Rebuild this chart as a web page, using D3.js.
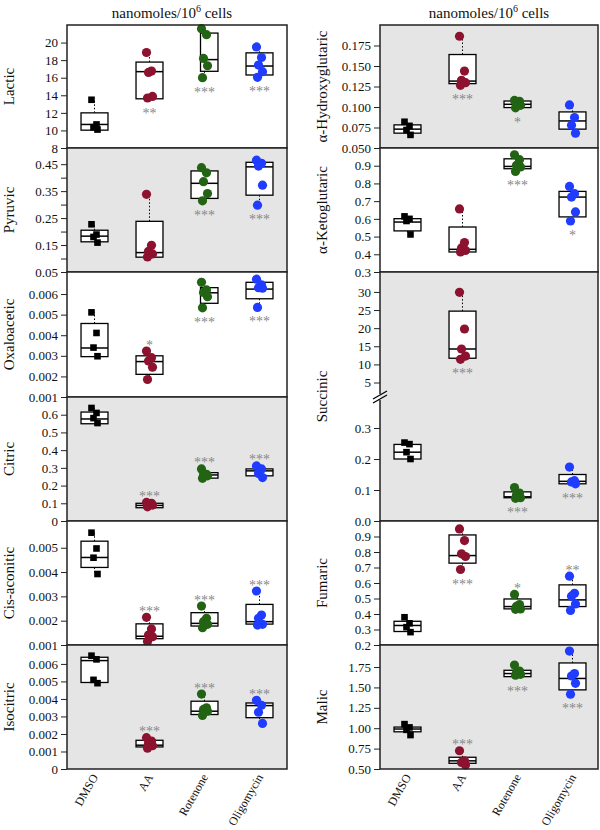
<!DOCTYPE html>
<html><head><meta charset="utf-8">
<script src="https://cdn.jsdelivr.net/npm/d3@7"></script>
<style>body{margin:0;background:#fff}</style>
</head><body><svg id="c" width="600" height="830"></svg>
<script>
const groups = ["DMSO","AA","Rotenone","Oligomycin"];
const groupColors = ["#000000","#8c1230","#236414","#1f3cff"];

// ---- Lactic ----
const lacticDomain = [8, 22];
const lacticTicks = ["8","10","12","14","16","18","20"];
const lacticPts = [[13.49,10.68,10.37,10.1],[18.87,16.76,16.6,13.87,13.69],[21.58,20.9,18.2,17.36,16.0],[19.5,18.3,17.44,16.69,16.05]];
const lacticBox = [[10.03,10.68,12.0],[13.6,16.69,17.78],[16.73,18.06,21.08],[16.31,17.33,18.83]];
const lacticSig = ["","**","***","***"];
const lacticSide = ["","below","below","below"];
// ---- Pyruvic ----
const pyruvicDomain = [0.05, 0.51];
const pyruvicTicks = ["0.05","0.15","0.25","0.35","0.45"];
const pyruvicMinor = [0.10,0.20,0.30,0.40];
const pyruvicPts = [[0.227,0.189,0.18,0.159],[0.338,0.149,0.127,0.117,0.106],[0.437,0.418,0.385,0.341,0.314],[0.465,0.453,0.443,0.372,0.298]];
const pyruvicBox = [[0.162,0.183,0.205],[0.105,0.122,0.238],[0.323,0.379,0.425],[0.335,0.44,0.457]];
const pyruvicSig = ["","","***","***"];
const pyruvicSide = ["","","below","below"];
// ---- Oxaloacetic ----
const oxaloDomain = [0.001, 0.00707];
const oxaloTicks = ["0.001","0.002","0.003","0.004","0.005","0.006"];
const oxaloPts = [[0.00511,0.00411,0.0034,0.00298],[0.00323,0.00291,0.00275,0.00245,0.00185],[0.00657,0.0062,0.00608,0.00587,0.00533],[0.00672,0.00644,0.00631,0.00628,0.00535]];
const oxaloBox = [[0.00296,0.00338,0.00457],[0.0021,0.00272,0.003],[0.00555,0.00606,0.00631],[0.00577,0.00624,0.00657]];
const oxaloSig = ["","*","***","***"];
const oxaloSide = ["","above","below","below"];
// ---- Citric ----
const citricDomain = [0, 0.70];
const citricTicks = ["0","0.1","0.2","0.3","0.4","0.5","0.6"];
const citricPts = [[0.638,0.61,0.581,0.553],[0.105,0.1,0.095,0.09,0.08],[0.294,0.264,0.26,0.255,0.241],[0.311,0.294,0.268,0.245]];
const citricBox = [[0.549,0.576,0.615],[0.075,0.088,0.1],[0.242,0.26,0.273],[0.255,0.283,0.294]];
const citricSig = ["","***","***","***"];
const citricSide = ["","above","above","above"];
// ---- Cis-aconitic ----
const cisDomain = [0.001, 0.0061];
const cisTicks = ["0.001","0.002","0.003","0.004","0.005"];
const cisPts = [[0.00562,0.00497,0.00459,0.00392],[0.00214,0.00166,0.00141,0.00134,0.00114],[0.0026,0.0021,0.00196,0.00185,0.00171],[0.00322,0.00223,0.0021,0.00185,0.00182]];
const cisBox = [[0.00419,0.0046,0.00527],[0.00126,0.00136,0.00187],[0.00178,0.00189,0.00233],[0.00186,0.00196,0.00267]];
const cisSig = ["","***","***","***"];
const cisSide = ["","above","above","above"];
// ---- Isocitric ----
const isoDomain = [0, 0.00708];
const isoTicks = ["0","0.001","0.002","0.003","0.004","0.005","0.006"];
const isoPts = [[0.00647,0.00626,0.00509,0.0049],[0.00179,0.0016,0.00145,0.00133,0.00119],[0.00428,0.00349,0.0034,0.0033,0.00306],[0.00392,0.00364,0.00324,0.0026]];
const isoBox = [[0.00494,0.00619,0.00638],[0.00126,0.00136,0.00164],[0.00311,0.0033,0.00387],[0.00293,0.00362,0.00377]];
const isoSig = ["","***","***","***"];
const isoSide = ["","above","above","above"];
// ---- alpha-Hydroxyglutaric ----
const hgDomain = [0.05, 0.2];
const hgTicks = ["0.050","0.075","0.100","0.125","0.150","0.175"];
const hgPts = [[0.082,0.077,0.072,0.066],[0.1863,0.1438,0.1325,0.1297,0.1264],[0.108,0.107,0.105,0.102,0.099],[0.1025,0.0872,0.0778,0.0681]];
const hgBox = [[0.0681,0.073,0.0782],[0.1285,0.1316,0.164],[0.0993,0.1033,0.1073],[0.073,0.083,0.094]];
const hgSig = ["","***","*",""];
const hgSide = ["","below","below",""];
// ---- alpha-Ketoglutaric ----
const kgDomain = [0.3, 1.0];
const kgTicks = ["0.3","0.4","0.5","0.6","0.7","0.8","0.9"];
const kgPts = [[0.614,0.6,0.588,0.512],[0.656,0.466,0.436,0.422,0.413],[0.962,0.934,0.902,0.893,0.868],[0.783,0.742,0.723,0.639,0.588]];
const kgBox = [[0.532,0.582,0.601],[0.413,0.428,0.554],[0.883,0.896,0.939],[0.611,0.723,0.755]];
const kgSig = ["","","***","*"];
const kgSide = ["","","below","below"];
// ---- Succinic (broken axis) ----
const succUpperDomain = [1, 35.5];
const succLowerDomain = [0, 0.4];
const succUpperTicks = ["5","10","15","20","25","30"];
const succLowerTicks = ["0.0","0.1","0.2","0.3"];
const succPts = [[0.253,0.248,0.222,0.2],[29.9,19.77,14.25,12.3,11.4],[0.108,0.09,0.084,0.075,0.073],[0.174,0.13,0.126,0.12]];
const succBox = [[0.2,0.222,0.247],[11.7,14.25,24.7],[0.075,0.078,0.094],[0.12,0.128,0.15]];
const succSig = ["","***","***","***"];
const succSide = ["","below","below","below"];
// ---- Fumaric ----
const fumDomain = [0.2, 1.0];
const fumTicks = ["0.2","0.3","0.4","0.5","0.6","0.7","0.8","0.9"];
const fumPts = [[0.379,0.34,0.315,0.283],[0.949,0.874,0.788,0.771,0.687],[0.526,0.461,0.45,0.433,0.43],[0.644,0.534,0.515,0.465,0.423]];
const fumBox = [[0.287,0.326,0.353],[0.728,0.777,0.91],[0.433,0.448,0.497],[0.448,0.491,0.588]];
const fumSig = ["","***","*","**"];
const fumSide = ["","below","above","above"];
// ---- Malic ----
const malDomain = [0.5, 2.02];
const malTicks = ["0.50","0.75","1.00","1.25","1.50","1.75"];
const malPts = [[1.05,1.01,0.98,0.916],[0.724,0.6,0.58,0.55],[1.775,1.70,1.68,1.66,1.65],[1.945,1.67,1.64,1.55,1.417]];
const malBox = [[0.956,0.99,1.014],[0.57,0.60,0.644],[1.632,1.67,1.71],[1.47,1.61,1.80]];
const malSig = ["","***","***","***"];
const malSide = ["","above","below","below"];

// panels in which the Rotenone box is drawn narrower in the original
const narrowRotenone = ["Lactic","Oxaloacetic","Citric"];

// ---------- layout ----------
const cols = [{x0:67, x1:287}, {x0:380, x1:598}];
const GRAY = "#e5e5e5";
const FONT = "Liberation Serif, Times New Roman, serif";

const panels = [
  {name:"Lactic", col:0, top:25, bottom:148, shade:false, segs:[{domain:lacticDomain, top:25, bottom:148, ticks:lacticTicks}], pts:lacticPts, box:lacticBox, sig:lacticSig, side:lacticSide},
  {name:"Pyruvic", col:0, top:148, bottom:272, shade:true, segs:[{domain:pyruvicDomain, top:148, bottom:272, ticks:pyruvicTicks, minor:pyruvicMinor}], pts:pyruvicPts, box:pyruvicBox, sig:pyruvicSig, side:pyruvicSide},
  {name:"Oxaloacetic", col:0, top:272, bottom:397, shade:false, segs:[{domain:oxaloDomain, top:272, bottom:397, ticks:oxaloTicks}], pts:oxaloPts, box:oxaloBox, sig:oxaloSig, side:oxaloSide},
  {name:"Citric", col:0, top:397, bottom:521, shade:true, segs:[{domain:citricDomain, top:397, bottom:521, ticks:citricTicks}], pts:citricPts, box:citricBox, sig:citricSig, side:citricSide},
  {name:"Cis-aconitic", col:0, top:521, bottom:645, shade:false, segs:[{domain:cisDomain, top:521, bottom:645, ticks:cisTicks}], pts:cisPts, box:cisBox, sig:cisSig, side:cisSide},
  {name:"Isocitric", col:0, top:645, bottom:769, shade:true, segs:[{domain:isoDomain, top:645, bottom:769, ticks:isoTicks}], pts:isoPts, box:isoBox, sig:isoSig, side:isoSide},
  {name:"α-Hydroxyglutaric", col:1, top:25, bottom:148, shade:true, segs:[{domain:hgDomain, top:25, bottom:148, ticks:hgTicks}], pts:hgPts, box:hgBox, sig:hgSig, side:hgSide},
  {name:"α-Ketoglutaric", col:1, top:148, bottom:272, shade:false, segs:[{domain:kgDomain, top:148, bottom:272, ticks:kgTicks}], pts:kgPts, box:kgBox, sig:kgSig, side:kgSide},
  {name:"Succinic", col:1, top:272, bottom:521, shade:true, broken:397, segs:[{domain:succUpperDomain, top:272, bottom:397, ticks:succUpperTicks},{domain:succLowerDomain, top:397, bottom:521, ticks:succLowerTicks}], pts:succPts, box:succBox, sig:succSig, side:succSide},
  {name:"Fumaric", col:1, top:521, bottom:645, shade:false, segs:[{domain:fumDomain, top:521, bottom:645, ticks:fumTicks}], pts:fumPts, box:fumBox, sig:fumSig, side:fumSide},
  {name:"Malic", col:1, top:645, bottom:769, shade:true, segs:[{domain:malDomain, top:645, bottom:769, ticks:malTicks}], pts:malPts, box:malBox, sig:malSig, side:malSide}
];

const svg = d3.select("#c").attr("font-family", FONT);
const jit = [-3, 2, -1, 3, -2, 1];

// titles
cols.forEach((c, i) => {
  const t = svg.append("text").attr("x", i === 0 ? 172 : 489).attr("y", 18)
    .attr("text-anchor","middle").attr("font-size",15).attr("fill","#111");
  t.append("tspan").text("nanomoles/10");
  t.append("tspan").text("6").attr("font-size",10).attr("dy",-6);
  t.append("tspan").text(" cells").attr("dy",6);
});

panels.forEach(p => {
  const c = cols[p.col];
  const x = d3.scaleBand().domain(groups).range([c.x0, c.x0 + 220]);
  p.segs.forEach(s => { s.scale = d3.scaleLinear().domain(s.domain).range([s.bottom, s.top]); });
  const y = v => {
    const s = p.segs.find(s => v >= s.domain[0] && v <= s.domain[1]) || p.segs[p.segs.length - 1];
    return s.scale(v);
  };
  const g = svg.append("g");
  g.append("rect").attr("x", c.x0).attr("y", p.top).attr("width", c.x1 - c.x0).attr("height", p.bottom - p.top)
    .attr("fill", p.shade ? GRAY : "#fff");

  const bw = x.bandwidth() * 0.49;
  groups.forEach((grp, gi) => {
    const cx = x(grp) + x.bandwidth() / 2;
    const pts = p.pts[gi];
    const [q1, med, q3] = p.box[gi];
    const mx = d3.max(pts), mn = d3.min(pts);
    let bx0 = cx - bw / 2, bx1 = cx + bw / 2;
    if (grp === "Rotenone" && narrowRotenone.includes(p.name)) bx0 = cx - 4;
    // whiskers
    if (mx > q3) g.append("line").attr("x1", cx).attr("x2", cx).attr("y1", y(q3)).attr("y2", y(mx))
      .attr("stroke","#000").attr("stroke-width",1).attr("stroke-dasharray","1.5,2");
    if (mn < q1) g.append("line").attr("x1", cx).attr("x2", cx).attr("y1", y(q1)).attr("y2", y(mn))
      .attr("stroke","#000").attr("stroke-width",1).attr("stroke-dasharray","1.5,2");
    // box
    g.append("rect").attr("x", bx0).attr("y", y(q3)).attr("width", bx1 - bx0).attr("height", y(q1) - y(q3))
      .attr("fill","#fff").attr("stroke","#000").attr("stroke-width",1.3);
    g.append("line").attr("x1", bx0).attr("x2", bx1).attr("y1", y(med)).attr("y2", y(med))
      .attr("stroke","#000").attr("stroke-width",1.5);
    // points
    pts.forEach((v, i) => {
      const px = cx + jit[i % jit.length];
      if (gi === 0) {
        g.append("rect").attr("x", px - 3.3).attr("y", y(v) - 3.3).attr("width", 6.6).attr("height", 6.6)
          .attr("fill", groupColors[gi]);
      } else {
        g.append("circle").attr("cx", px).attr("cy", y(v)).attr("r", 4.6).attr("fill", groupColors[gi]);
      }
    });
    // significance
    if (p.sig[gi]) {
      const ty = p.side[gi] === "below" ? y(Math.min(mn, q1)) + 19 : y(Math.max(mx, q3)) - 1.5;
      g.append("text").attr("x", cx).attr("y", ty).attr("text-anchor","middle")
        .attr("font-size",14).attr("fill","#888").text(p.sig[gi]);
    }
  });

  // border
  if (p.broken) {
    const b = p.broken;
    g.append("path").attr("d", `M${c.x0},${b-3}V${p.top}H${c.x1}V${p.bottom}H${c.x0}V${b+3}`)
      .attr("fill","none").attr("stroke","#222").attr("stroke-width",1.5);
    [-2, 2].forEach(o => g.append("line").attr("x1", c.x0 - 7).attr("y1", b + o + 4).attr("x2", c.x0 + 7).attr("y2", b + o - 4)
      .attr("stroke","#000").attr("stroke-width",1.2));
  } else {
    g.append("rect").attr("x", c.x0).attr("y", p.top).attr("width", c.x1 - c.x0).attr("height", p.bottom - p.top)
      .attr("fill","none").attr("stroke","#222").attr("stroke-width",1.5);
  }

  // axes
  p.segs.forEach(s => {
    const ax = g.append("g").attr("transform", `translate(${c.x0},0)`)
      .call(d3.axisLeft(s.scale).tickValues(s.ticks.map(Number)).tickFormat((d, i) => s.ticks[i]).tickSize(6).tickPadding(3));
    ax.attr("font-family", FONT);
    ax.select(".domain").remove();
    ax.selectAll("text").attr("font-size",13).attr("fill","#111");
    ax.selectAll("line").attr("stroke","#222");
    if (s.minor) {
      const mi = g.append("g").attr("transform", `translate(${c.x0},0)`)
        .call(d3.axisLeft(s.scale).tickValues(s.minor).tickFormat("").tickSize(6));
      mi.select(".domain").remove();
      mi.selectAll("line").attr("stroke","#222");
    }
  });

  // y label
  const lx = p.col === 0 ? 14 : 327;
  g.append("text").attr("transform", `translate(${lx},${(p.top + p.bottom) / 2}) rotate(-90)`)
    .attr("text-anchor","middle").attr("font-size",15).attr("fill","#111").text(p.name);

  // x labels at bottom
  if (p.bottom === 769) {
    groups.forEach(grp => {
      const cx = x(grp) + x.bandwidth() / 2;
      g.append("text").attr("transform", `translate(${cx + 4},${777}) rotate(-60)`)
        .attr("text-anchor","end").attr("font-size",12).attr("fill","#111").text(grp);
    });
  }
});
</script></body></html>
